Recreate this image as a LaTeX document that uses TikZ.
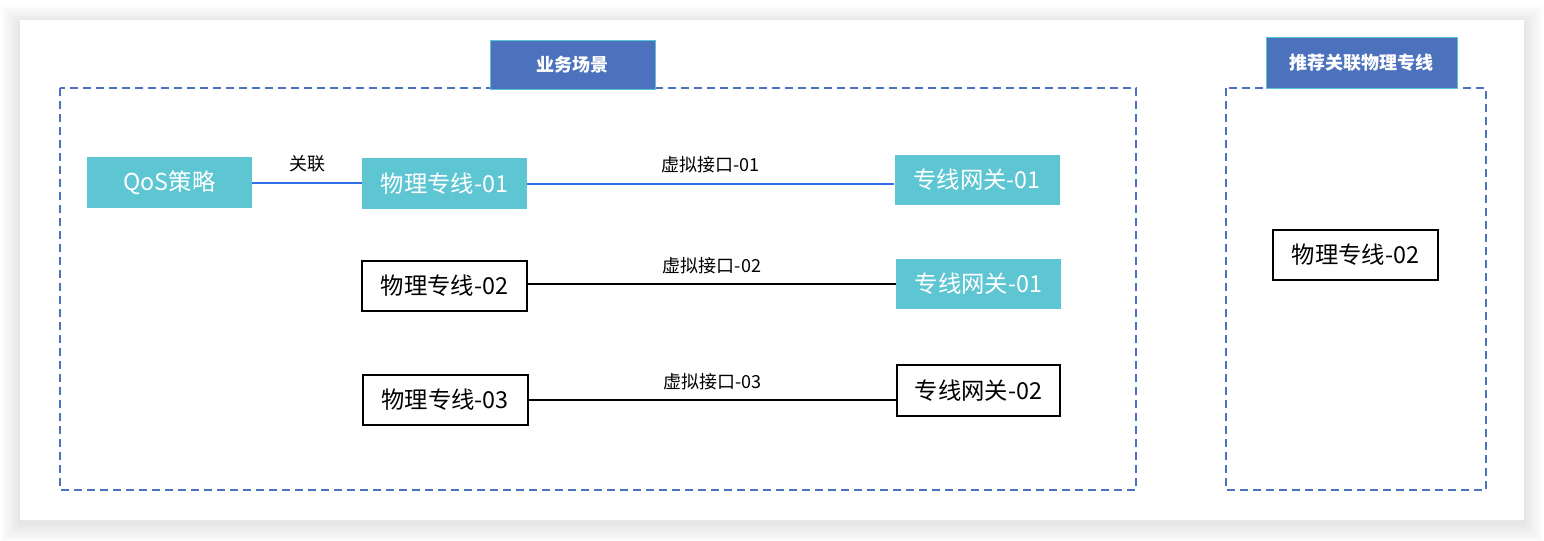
\documentclass[tikz,border=0pt]{standalone}
\usepackage{fontspec}
\setmainfont{Noto Sans CJK SC}
\usetikzlibrary{positioning}

\definecolor{tealfill}{HTML}{5EC6D3}
\definecolor{titlefill}{HTML}{4C72BD}
\definecolor{titleedge}{HTML}{5BC3D6}
\definecolor{zoneblue}{HTML}{4A72C0}
\definecolor{linkblue}{HTML}{2E6FE8}

\begin{document}
\begin{tikzpicture}[
    x=0.75pt, y=-0.75pt,
    every node/.style={font=\fontsize{17.5}{19}\selectfont},
    lit/.style={fill=tealfill,text=white,minimum width=123.75pt,minimum height=38pt,inner sep=0pt},
    plain/.style={draw,line width=1.5pt,fill=white,minimum width=123.75pt,minimum height=37.5pt,inner sep=0pt},
    title/.style={draw=titleedge,line width=0.75pt,fill=titlefill,text=white,inner sep=0pt,
                  font=\fontsize{13.5}{15}\selectfont\bfseries},
    zone/.style={draw=zoneblue,line width=1.5pt,dash pattern=on 6pt off 3.75pt},
    tag/.style={text=black,font=\fontsize{13.5}{15}\selectfont,inner sep=0pt}
]
\useasboundingbox (0,0) rectangle (1544,540);
\fill[white] (0,0) rectangle (1544,540);

% card with soft shadow
\foreach \i in {1,...,12}
  \fill[black,opacity=0.007] (20-1.6*\i,22-1.4*\i) rectangle (1524+1.6*\i,524+1.6*\i);
\fill[white] (20,20) rectangle (1524,520);

% dashed zones
\draw[zone] (60,88) rectangle (1136,490);
\draw[zone] (1226,88) rectangle (1486,490);

% zone titles
\node[title,minimum width=123.75pt,minimum height=36.75pt] (t1) at (572.5,64.5) {业务场景};
\node[title,minimum width=143.25pt,minimum height=38.25pt] (t2) at (1361.5,62.5) {推荐关联物理专线};

% first row
\node[lit] (qos) at (169.5,182.5) {QoS策略};
\node[lit] (p01) at (444.5,183.5) {物理专线-01};
\node[lit,minimum height=37.5pt] (g01) at (977,180) {专线网关-01};
\draw[linkblue,line width=1.5pt] (qos.east) -- node[tag,above=7pt]{关联} (qos.east -| p01.west);
\draw[linkblue,line width=1.5pt] (p01.east) -- node[tag,above=7pt]{虚拟接口-01} (p01.east -| g01.west);

% second row
\node[plain] (p02) at (444.5,286) {物理专线-02};
\node[lit,minimum height=37.5pt] (g01b) at (978.5,284) {专线网关-01};
\draw[line width=1.5pt] (p02.east |- g01b.west) -- node[tag,above=7pt]{虚拟接口-02} (g01b.west);

% third row
\node[plain] (p03) at (445,400) {物理专线-03};
\node[plain,minimum width=122.25pt,minimum height=38.25pt] (g02) at (978.5,390.5) {专线网关-02};
\draw[line width=1.5pt] (p03.east) -- node[tag,above=7pt]{虚拟接口-03} (p03.east -| g02.west);

% recommended line
\node[plain] (r02) at (1355.5,255) {物理专线-02};

\end{tikzpicture}
\end{document}
